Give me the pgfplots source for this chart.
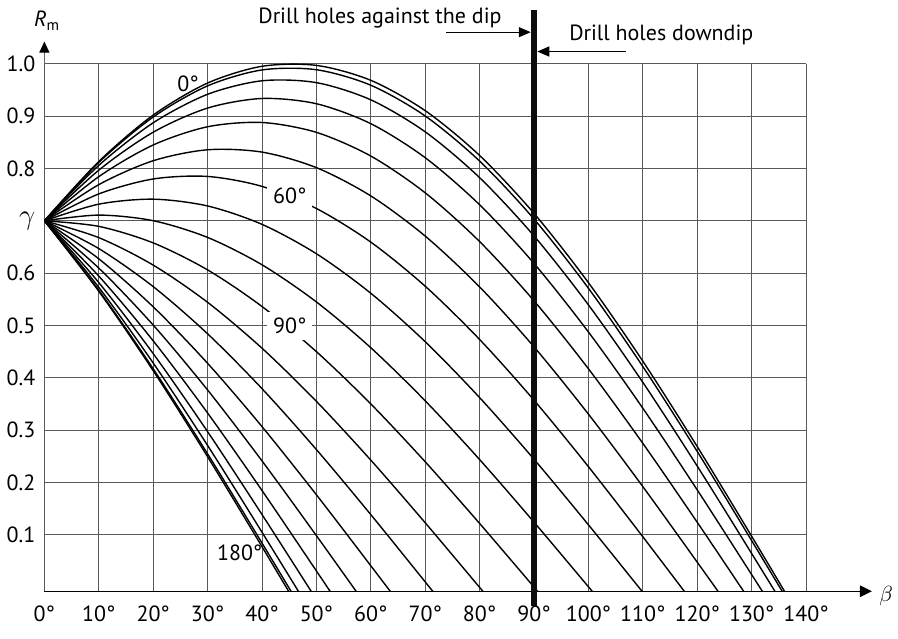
\documentclass[border=0pt]{standalone}
\usepackage{fontspec}
\setmainfont{PT Sans}
\usepackage{pgfplots}
\pgfplotsset{compat=1.18}
\usetikzlibrary{arrows.meta}

\begin{document}
\begin{tikzpicture}[font=\fontsize{11}{13}\selectfont]
\begin{axis}[
  scale only axis, width=381.25pt, height=264pt,
  xmin=0, xmax=140, ymin=-0.008, ymax=1,
  clip mode=individual,
  axis line style={draw=none},
  xtick={0,10,20,30,40,50,60,70,80,90,100,110,120,130,140},
  xticklabels={0°,10°,20°,30°,40°,50°,60°,70°,80°,90°,100°,110°,120°,130°,140°},
  ytick={0.1,0.2,0.3,0.4,0.5,0.6,0.7,0.8,0.9,1.0},
  yticklabels={0.1,0.2,0.3,0.4,0.5,0.6,{\fontsize{15}{15}\selectfont$\gamma$},0.8,0.9,1.0},
  major tick length=0pt,
  grid=major,
  major grid style={black!65, line width=0.5pt},
  xticklabel style={yshift=-4pt},
  yticklabel style={xshift=-1pt},
  crv/.style={black, solid, line width=0.7pt, smooth, mark=none},
]
% alpha = 0
\addplot[crv] coordinates {(0,0.7) (10,0.81338) (20,0.90203) (30,0.96329) (40,0.99527) (50,0.99702) (60,0.96847) (70,0.91048) (80,0.82485) (90,0.71414) (100,0.58173) (110,0.43166) (120,0.26847) (130,0.09712) (140,-0.07719)};
% alpha = 10
\addplot[crv] coordinates {(0,0.7) (10,0.81150) (20,0.89832) (30,0.95787) (40,0.98830) (50,0.98871) (60,0.95908) (70,0.90029) (80,0.81417) (90,0.70329) (100,0.57105) (110,0.42147) (120,0.25908) (130,0.08881) (140,-0.08416)};
% alpha = 20
\addplot[crv] coordinates {(0,0.7) (10,0.80590) (20,0.88730) (30,0.94175) (40,0.96759) (50,0.96403) (60,0.93117) (70,0.87001) (80,0.78243) (90,0.67107) (100,0.53931) (110,0.39119) (120,0.23117) (130,0.06413) (140,-0.10487)};
% alpha = 30
\addplot[crv] coordinates {(0,0.7) (10,0.79677) (20,0.86931) (30,0.91545) (40,0.93377) (50,0.92373) (60,0.88561) (70,0.82058) (80,0.73063) (90,0.61847) (100,0.48751) (110,0.34176) (120,0.18561) (130,0.02383) (140,-0.13869)};
% alpha = 40
\addplot[crv] coordinates {(0,0.7) (10,0.78437) (20,0.84489) (30,0.87975) (40,0.88787) (50,0.86903) (60,0.82377) (70,0.75348) (80,0.66031) (90,0.54707) (100,0.41719) (110,0.27466) (120,0.12377) (130,-0.03087) (140,-0.18459)};
% alpha = 50
\addplot[crv] coordinates {(0,0.7) (10,0.76908) (20,0.81478) (30,0.83574) (40,0.83130) (50,0.80160) (60,0.74755) (70,0.67077) (80,0.57363) (90,0.45904) (100,0.33051) (110,0.19195) (120,0.04755) (130,-0.09830)};
% alpha = 60
\addplot[crv] coordinates {(0,0.7) (10,0.75138) (20,0.77991) (30,0.78476) (40,0.76575) (50,0.72349) (60,0.65924) (70,0.57495) (80,0.47321) (90,0.35707) (100,0.23009) (110,0.09613) (120,-0.04076)};
% alpha = 70
\addplot[crv] coordinates {(0,0.7) (10,0.73178) (20,0.74132) (30,0.72835) (40,0.69323) (50,0.63706) (60,0.56153) (70,0.46893) (80,0.36210) (90,0.24425) (100,0.11898) (110,-0.00989) (120,-0.13847)};
% alpha = 80
\addplot[crv] coordinates {(0,0.7) (10,0.71090) (20,0.70019) (30,0.66823) (40,0.61594) (50,0.54495) (60,0.45740) (70,0.35594) (80,0.24369) (90,0.12401) (100,0.00057) (110,-0.12288)};
% alpha = 90
\addplot[crv] coordinates {(0,0.7) (10,0.68937) (20,0.65778) (30,0.60622) (40,0.53623) (50,0.44995) (60,0.35) (70,0.23941) (80,0.12156) (90,0) (100,-0.12156)};
% alpha = 100
\addplot[crv] coordinates {(0,0.7) (10,0.66784) (20,0.61537) (30,0.54421) (40,0.45652) (50,0.35495) (60,0.24260) (70,0.12288) (80,-0.00057) (90,-0.12401)};
% alpha = 110
\addplot[crv] coordinates {(0,0.7) (10,0.64696) (20,0.57424) (30,0.48409) (40,0.37923) (50,0.26284) (60,0.13847) (70,0.00989) (80,-0.11898)};
% alpha = 120
\addplot[crv] coordinates {(0,0.7) (10,0.62736) (20,0.53565) (30,0.42768) (40,0.30671) (50,0.17641) (60,0.04076) (70,-0.09613)};
% alpha = 130
\addplot[crv] coordinates {(0,0.7) (10,0.60966) (20,0.50078) (30,0.37670) (40,0.24116) (50,0.09830) (60,-0.04755)};
% alpha = 140
\addplot[crv] coordinates {(0,0.7) (10,0.59437) (20,0.47067) (30,0.33269) (40,0.18459) (50,0.03087) (60,-0.12377)};
% alpha = 150
\addplot[crv] coordinates {(0,0.7) (10,0.58197) (20,0.44625) (30,0.29699) (40,0.13869) (50,-0.02383)};
% alpha = 160
\addplot[crv] coordinates {(0,0.7) (10,0.57284) (20,0.42826) (30,0.27069) (40,0.10487) (50,-0.06413)};
% alpha = 170
\addplot[crv] coordinates {(0,0.7) (10,0.56724) (20,0.41724) (30,0.25457) (40,0.08416) (50,-0.08881)};
% alpha = 180
\addplot[crv] coordinates {(0,0.7) (10,0.56536) (20,0.41353) (30,0.24915) (40,0.07719) (50,-0.09712)};

% curve labels
\node at (axis cs:26.4,0.962) {0°};
\node[fill=white, inner sep=3pt] at (axis cs:45.1,0.748) {60°};
\node[fill=white, inner sep=3pt] at (axis cs:45.1,0.4998) {90°};
\node at (axis cs:35.9,0.0655) {180°};

% axes
\draw[black, line width=0.65pt, -{Triangle[length=6pt,width=5.8pt]}] (axis cs:0,-0.008) -- (axis cs:152.1,-0.008);
\node[anchor=west, inner sep=0pt] at (axis cs:153.4,-0.017) {$\beta$};
\draw[black!60, line width=0.5pt, -{Triangle[length=5.5pt,width=5pt,black]}] (axis cs:0,1) -- (axis cs:0,1.0426);
\node[anchor=base, inner sep=0pt] at (axis cs:0.5,1.0706) {\textit{R}\textsubscript{m}};

% dip boundary
\draw[black!95, line width=3.3pt] (axis cs:90,-0.036) -- (axis cs:90,1.103);
\draw[black, line width=0.65pt, -{Triangle[length=6pt,width=5pt]}] (axis cs:73.9,1.0605) -- (axis cs:89.4,1.0605);
\draw[black, line width=0.65pt, -{Triangle[length=6pt,width=5pt]}] (axis cs:106.9,1.0235) -- (axis cs:90.6,1.0235);
\node[anchor=base east, inner sep=0pt] at (axis cs:84.1,1.0777) {Drill holes against the dip};
\node[anchor=base west, inner sep=0pt] at (axis cs:96.4,1.0445) {Drill holes downdip};

% bounding box
\path (axis cs:-7.99,-0.0977) rectangle (axis cs:156.9,1.122);
\end{axis}
\end{tikzpicture}
\end{document}
